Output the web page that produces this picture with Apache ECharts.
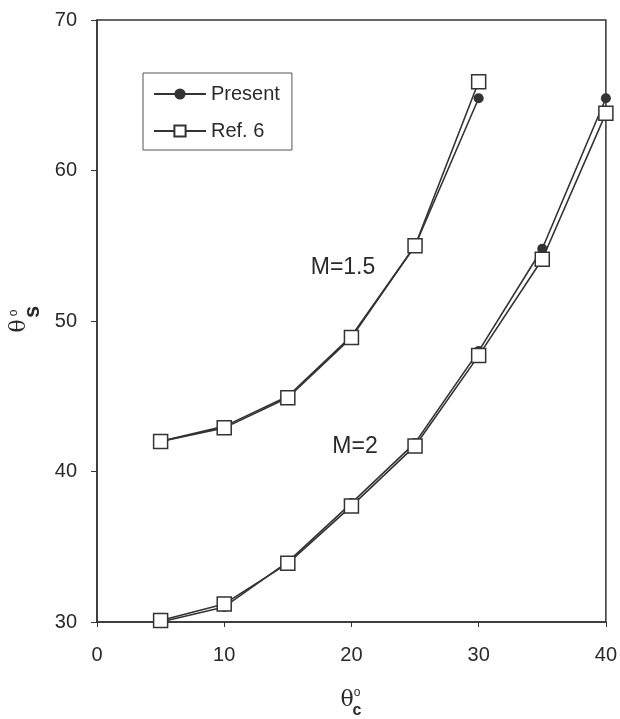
<!DOCTYPE html>
<html>
<head>
<meta charset="utf-8">
<script src="https://cdn.jsdelivr.net/npm/echarts@6/dist/echarts.min.js"></script>
<style>
  html, body { margin: 0; padding: 0; background: #fff; }
  #chart { width: 620px; height: 719px; }
</style>
</head>
<body>
<div id="chart"></div>
<script>
// θc (deg)
const thetaC = [5, 10, 15, 20, 25, 30, 35, 40];
// θs for M=1.5
const presentM15 = [42.0, 43.0, 45.0, 49.0, 55.0, 64.8];
const refM15 = [42.0, 42.9, 44.9, 48.9, 55.0, 65.9];
// θs for M=2
const presentM2 = [30.0, 31.0, 34.0, 37.9, 41.9, 48.0, 54.8, 64.8];
const refM2 = [30.1, 31.2, 33.9, 37.7, 41.7, 47.7, 54.1, 63.8];
// axis ticks
const xTicks = [0, 10, 20, 30, 40];
const yTicks = [30, 40, 50, 60, 70];

const ink = '#333';
const font = 'Liberation Sans';

function pairs(ys) {
  return ys.map((y, i) => [thetaC[i], y]);
}

function presentSeries(ys) {
  return {
    name: 'Present',
    type: 'line',
    data: pairs(ys),
    symbol: 'circle',
    symbolSize: 10,
    z: 2,
    itemStyle: { color: ink },
    lineStyle: { color: ink, width: 1.6 }
  };
}

function refSeries(ys) {
  return {
    name: 'Ref. 6',
    type: 'line',
    data: pairs(ys),
    symbol: 'rect',
    symbolSize: 14,
    z: 3,
    itemStyle: { color: '#fff', borderColor: ink, borderWidth: 1.5 },
    lineStyle: { color: ink, width: 1.6 }
  };
}

const myChart = echarts.init(document.getElementById('chart'));
myChart.setOption({
  backgroundColor: '#fff',
  animation: false,
  textStyle: { fontFamily: font },
  grid: {
    left: 97, right: 9, top: 20, bottom: 97,
    show: true, borderColor: ink, borderWidth: 1.5
  },
  legend: {
    data: ['Present', 'Ref. 6'],
    orient: 'vertical',
    left: 143,
    top: 73,
    padding: [11, 12, 9, 10],
    itemWidth: 52,
    itemHeight: 14,
    itemGap: 17,
    borderColor: '#555',
    borderWidth: 1,
    textStyle: { fontSize: 20, color: '#2a2a2a', fontFamily: font }
  },
  xAxis: {
    type: 'value',
    min: xTicks[0],
    max: xTicks[xTicks.length - 1],
    interval: xTicks[1] - xTicks[0],
    axisLine: { lineStyle: { color: ink, width: 1.5 } },
    axisTick: { length: 5, lineStyle: { color: ink } },
    axisLabel: { margin: 23, fontSize: 20, color: '#2a2a2a', fontFamily: font },
    splitLine: { show: false }
  },
  yAxis: {
    type: 'value',
    min: yTicks[0],
    max: yTicks[yTicks.length - 1],
    interval: yTicks[1] - yTicks[0],
    axisLine: { show: true, lineStyle: { color: ink, width: 1.5 } },
    axisTick: { show: true, length: 6, lineStyle: { color: ink } },
    axisLabel: { margin: 20, fontSize: 20, color: '#2a2a2a', fontFamily: font },
    splitLine: { show: false }
  },
  graphic: [
    // curve labels
    { type: 'text', x: 343, y: 268,
      style: { text: 'M=1.5', fontSize: 23, fontFamily: font, fill: '#2a2a2a', align: 'center', verticalAlign: 'middle' } },
    { type: 'text', x: 355, y: 447,
      style: { text: 'M=2', fontSize: 23, fontFamily: font, fill: '#2a2a2a', align: 'center', verticalAlign: 'middle' } },
    // x axis title θ°c
    { type: 'group', x: 347, y: 700, children: [
      { type: 'text', x: 0, y: 0,
        style: { text: 'θ', fontSize: 22, fontFamily: 'DejaVu Serif', fill: '#2a2a2a', align: 'center', verticalAlign: 'middle' } },
      { type: 'text', x: 10, y: -7,
        style: { text: 'o', fontSize: 12, fontFamily: font, fill: '#2a2a2a', align: 'center', verticalAlign: 'middle' } },
      { type: 'text', x: 10, y: 11,
        style: { text: 'c', fontSize: 16, fontWeight: 'bold', fontFamily: font, fill: '#2a2a2a', align: 'center', verticalAlign: 'middle' } }
    ] },
    // y axis title θ°s (rotated)
    { type: 'group', x: 19, y: 326, rotation: Math.PI / 2, children: [
      { type: 'text', x: 0, y: 0,
        style: { text: 'θ', fontSize: 22, fontFamily: 'DejaVu Serif', fill: '#2a2a2a', align: 'center', verticalAlign: 'middle' } },
      { type: 'text', x: 13, y: -5,
        style: { text: 'o', fontSize: 12, fontFamily: font, fill: '#2a2a2a', align: 'center', verticalAlign: 'middle' } },
      { type: 'text', x: 14, y: 14,
        style: { text: 's', fontSize: 22, fontWeight: 'bold', fontFamily: font, fill: '#2a2a2a', align: 'center', verticalAlign: 'middle' } }
    ] }
  ],
  series: [
    presentSeries(presentM15),
    presentSeries(presentM2),
    refSeries(refM15),
    refSeries(refM2)
  ]
});
</script>
</body>
</html>
